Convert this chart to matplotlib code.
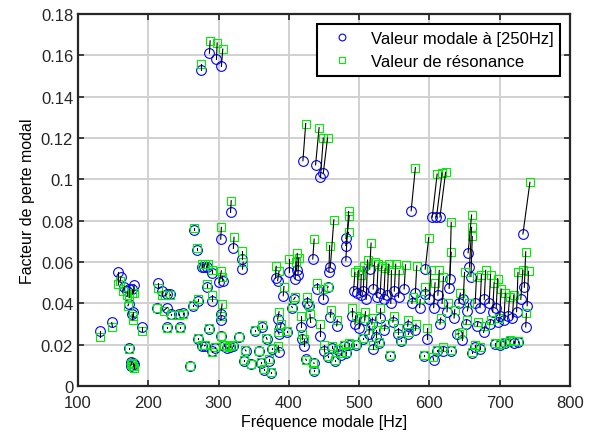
import matplotlib.pyplot as plt
from matplotlib.ticker import FuncFormatter

plt.rcParams['font.family'] = ['Liberation Sans', 'DejaVu Sans']

# modal values (freq [Hz], loss factor) and resonance values (freq, loss factor)
f_mod = [132, 148, 157, 161, 166, 170, 173, 177, 180, 172, 177, 178, 191, 173, 176, 178, 180, 175,
         214, 220, 226, 231, 213, 227, 232, 244, 250, 226, 245, 260,
         265, 269, 264, 271, 271, 276, 279, 283, 291, 283, 290, 286, 290, 276, 280, 295,
         303, 301, 306, 303, 303, 303, 308, 312, 316, 320, 317, 321, 334, 334, 329, 339, 336, 346,
         275, 287, 297, 304,
         357, 360, 362, 369, 372, 374, 381, 384, 384, 392, 388, 386, 386, 400, 405, 407, 409, 411,
         413, 417, 418, 352, 376, 398, 365,
         420, 438, 445, 449, 422, 431, 429, 424, 436, 436, 434, 444, 450, 455, 457, 459, 459, 468,
         456, 462, 466, 470, 474, 478, 482, 486, 448, 426, 440,
         481, 481, 481, 492, 497, 502, 506, 515, 510, 520, 525, 530, 535, 540, 545, 550, 556,
         490, 494, 500, 508, 514, 518, 524, 530, 536, 544, 548, 555, 495, 505, 520, 528, 560,
         564, 574, 580, 594, 593, 569, 570, 580, 592, 606, 597, 604, 610, 615, 600, 606, 612, 618,
         611, 620, 630, 629, 628, 625, 635, 615, 586, 575,
         655, 657, 659, 646, 639, 654, 648, 665, 672, 678, 685, 690, 695, 700, 706, 712, 718, 724,
         730, 733, 735, 739, 737, 726, 694, 660, 665, 672, 677, 686, 700, 708, 714, 720, 698, 668,
         652, 642]
eta_mod = [0.0268, 0.0308, 0.0553, 0.0528, 0.0482, 0.0462, 0.0470, 0.0470, 0.0490, 0.0397, 0.0348,
           0.0360, 0.0284, 0.0187, 0.0115, 0.0110, 0.0105, 0.0100,
           0.0500, 0.0460, 0.0445, 0.0445, 0.0380, 0.0380, 0.0350, 0.0350, 0.0353, 0.0284, 0.0284,
           0.0098,
           0.0757, 0.0660, 0.0389, 0.0413, 0.0227, 0.0576, 0.0576, 0.0576, 0.0547, 0.0482, 0.0413,
           0.0276, 0.0171, 0.0195, 0.0195, 0.0187,
           0.0711, 0.0502, 0.0510, 0.0348, 0.0320, 0.0243, 0.0195, 0.0185, 0.0188, 0.0195, 0.0840,
           0.0666, 0.0615, 0.0566, 0.0236, 0.0171, 0.0123, 0.0106,
           0.1530, 0.1610, 0.1580, 0.1546,
           0.0171, 0.0114, 0.0284, 0.0227, 0.0123, 0.0066, 0.0523, 0.0510, 0.0324, 0.0437, 0.0284,
           0.0252, 0.0163, 0.0550, 0.0380, 0.0420, 0.0520, 0.0560, 0.0540, 0.0284, 0.0227, 0.0265,
           0.0180, 0.0260, 0.0080,
           0.1090, 0.1070, 0.1010, 0.1030, 0.0195, 0.0308, 0.0389, 0.0131, 0.0111, 0.0074, 0.0615,
           0.0244, 0.0171, 0.0478, 0.0553, 0.0576, 0.0334, 0.0292, 0.0140, 0.0185, 0.0120, 0.0175,
           0.0150, 0.0195, 0.0160, 0.0200, 0.0420, 0.0400, 0.0470,
           0.0607, 0.0680, 0.0715, 0.0460, 0.0450, 0.0440, 0.0460, 0.0566, 0.0420, 0.0470, 0.0430,
           0.0450, 0.0420, 0.0440, 0.0400, 0.0460, 0.0430, 0.0340, 0.0300, 0.0280, 0.0320, 0.0250,
           0.0300, 0.0240, 0.0330, 0.0270, 0.0147, 0.0310, 0.0250, 0.0200, 0.0230, 0.0180, 0.0210,
           0.0220,
           0.0470, 0.0848, 0.0453, 0.0566, 0.0445, 0.0290, 0.0250, 0.0270, 0.0147, 0.0126, 0.0227,
           0.0818, 0.0818, 0.0818, 0.0420, 0.0380, 0.0440, 0.0400, 0.0170, 0.0170, 0.0170, 0.0518,
           0.0473, 0.0360, 0.0330, 0.0300, 0.0380, 0.0400,
           0.0645, 0.0576, 0.0530, 0.0224, 0.0252, 0.0364, 0.0420, 0.0400, 0.0380, 0.0420, 0.0400,
           0.0360, 0.0380, 0.0340, 0.0320, 0.0340, 0.0330, 0.0360, 0.0420, 0.0736, 0.0478, 0.0389,
           0.0287, 0.0216, 0.0203, 0.0160, 0.0190, 0.0180, 0.0260, 0.0300, 0.0200, 0.0210, 0.0220,
           0.0210, 0.0310, 0.0290, 0.0300, 0.0400]
f_res = [132, 149, 157, 160, 164, 170, 173, 177, 179, 171, 178, 178, 191, 173, 176, 178, 180, 177,
         214, 220, 224, 231, 213, 222, 232, 244, 250, 226, 245, 260,
         265, 269, 264, 271, 271, 276, 281, 285, 291, 283, 290, 286, 290, 277, 281, 295,
         304, 304, 305, 305, 304, 303, 308, 312, 316, 320, 318, 322, 334, 335, 329, 338, 336, 346,
         275, 288, 298, 306,
         357, 360, 362, 368, 372, 374, 382, 386, 386, 393, 389, 385, 385, 400, 404, 409, 410, 412,
         414, 417, 418, 352, 376, 398, 365,
         424, 443, 449, 455, 422, 430, 428, 425, 435, 436, 436, 444, 450, 456, 458, 464, 460, 469,
         456, 462, 466, 470, 474, 478, 482, 486, 448, 426, 440,
         485, 486, 485, 494, 499, 503, 507, 517, 512, 522, 527, 532, 537, 542, 546, 552, 557,
         490, 495, 501, 509, 515, 519, 524, 530, 537, 544, 549, 555, 495, 505, 520, 528, 560,
         566, 580, 582, 599, 593, 570, 571, 581, 592, 605, 597, 611, 618, 623, 602, 608, 614, 620,
         611, 620, 630, 631, 631, 626, 636, 616, 587, 576,
         660, 660, 661, 646, 642, 656, 650, 667, 674, 680, 687, 692, 697, 702, 708, 714, 720, 726,
         733, 743, 737, 741, 738, 726, 694, 660, 665, 672, 679, 687, 700, 708, 714, 720, 699, 669,
         653, 644]
eta_res = [0.0236, 0.0287, 0.0494, 0.0508, 0.0462, 0.0440, 0.0429, 0.0449, 0.0450, 0.0389, 0.0320,
           0.0340, 0.0268, 0.0180, 0.0105, 0.0100, 0.0090, 0.0112,
           0.0477, 0.0440, 0.0440, 0.0440, 0.0378, 0.0366, 0.0346, 0.0346, 0.0350, 0.0280, 0.0282,
           0.0096,
           0.0765, 0.0670, 0.0395, 0.0420, 0.0232, 0.0590, 0.0592, 0.0592, 0.0560, 0.0495, 0.0440,
           0.0280, 0.0166, 0.0200, 0.0198, 0.0190,
           0.0768, 0.0558, 0.0530, 0.0397, 0.0340, 0.0243, 0.0200, 0.0190, 0.0195, 0.0200, 0.0897,
           0.0720, 0.0655, 0.0600, 0.0240, 0.0175, 0.0125, 0.0108,
           0.1560, 0.1670, 0.1660, 0.1630,
           0.0172, 0.0116, 0.0295, 0.0235, 0.0130, 0.0068, 0.0580, 0.0555, 0.0360, 0.0482, 0.0300,
           0.0260, 0.0195, 0.0615, 0.0385, 0.0430, 0.0600, 0.0642, 0.0620, 0.0340, 0.0250, 0.0270,
           0.0185, 0.0265, 0.0082,
           0.1270, 0.1250, 0.1200, 0.1200, 0.0227, 0.0348, 0.0392, 0.0125, 0.0112, 0.0076, 0.0711,
           0.0300, 0.0200, 0.0480, 0.0680, 0.0805, 0.0370, 0.0320, 0.0145, 0.0195, 0.0125, 0.0180,
           0.0160, 0.0200, 0.0165, 0.0210, 0.0470, 0.0430, 0.0500,
           0.0845, 0.0824, 0.0744, 0.0550, 0.0560, 0.0540, 0.0580, 0.0692, 0.0610, 0.0600, 0.0590,
           0.0580, 0.0570, 0.0590, 0.0560, 0.0590, 0.0560, 0.0380, 0.0340, 0.0330, 0.0360, 0.0290,
           0.0330, 0.0270, 0.0380, 0.0300, 0.0150, 0.0340, 0.0280, 0.0205, 0.0235, 0.0200, 0.0215,
           0.0225,
           0.0587, 0.1057, 0.0582, 0.0718, 0.0478, 0.0320, 0.0260, 0.0300, 0.0150, 0.0140, 0.0280,
           0.1026, 0.1030, 0.1034, 0.0560, 0.0500, 0.0560, 0.0530, 0.0175, 0.0190, 0.0175, 0.0792,
           0.0647, 0.0400, 0.0370, 0.0330, 0.0420, 0.0430,
           0.0828, 0.0768, 0.0724, 0.0260, 0.0254, 0.0400, 0.0550, 0.0530, 0.0540, 0.0560, 0.0540,
           0.0500, 0.0520, 0.0470, 0.0450, 0.0430, 0.0440, 0.0550, 0.0560, 0.0986, 0.0650, 0.0555,
           0.0352, 0.0218, 0.0210, 0.0165, 0.0200, 0.0190, 0.0290, 0.0320, 0.0205, 0.0215, 0.0225,
           0.0220, 0.0330, 0.0310, 0.0320, 0.0450]

fig = plt.figure(figsize=(6, 4.39), dpi=100)
ax = fig.add_axes([0.13, 0.118, 0.82, 0.848])

for i in range(len(f_mod)):
    ax.plot([f_mod[i], f_res[i]], [eta_mod[i], eta_res[i]], color='black', lw=0.8, zorder=4)
ax.plot(f_mod, eta_mod, 'o', mfc='none', mec='blue', ms=7, mew=0.8, zorder=3,
        label='Valeur modale à [250Hz]')
ax.plot(f_res, eta_res, 's', mfc='none', mec='#00ee00', ms=5.5, mew=0.8, zorder=3,
        label='Valeur de résonance')

ax.set_xlim(100, 800)
ax.set_ylim(0, 0.18)
ax.set_xticks(range(100, 801, 100))
ax.set_yticks([i * 0.02 for i in range(10)])
ax.yaxis.set_major_formatter(FuncFormatter(lambda v, p: '%g' % round(v, 2)))
ax.grid(True, color='#d0d0d0', lw=1.4)
ax.set_axisbelow(True)
for s in ax.spines.values():
    s.set_linewidth(1.6)
    s.set_color('#262626')
ax.tick_params(direction='in', top=True, right=True, length=4, width=1.2,
               labelsize=12, colors='#262626')
ax.tick_params(axis='x', pad=6)
ax.set_xlabel('Fréquence modale [Hz]', fontsize=11.5, labelpad=3)
ax.set_ylabel('Facteur de perte modal', fontsize=11.5)

leg = ax.legend(loc='upper right', fontsize=12, fancybox=False, framealpha=1,
                edgecolor='black', markerscale=0.7, handlelength=2.2,
                handletextpad=0.6, borderaxespad=0.6)
leg.get_frame().set_linewidth(1.5)

plt.savefig('out.png')
